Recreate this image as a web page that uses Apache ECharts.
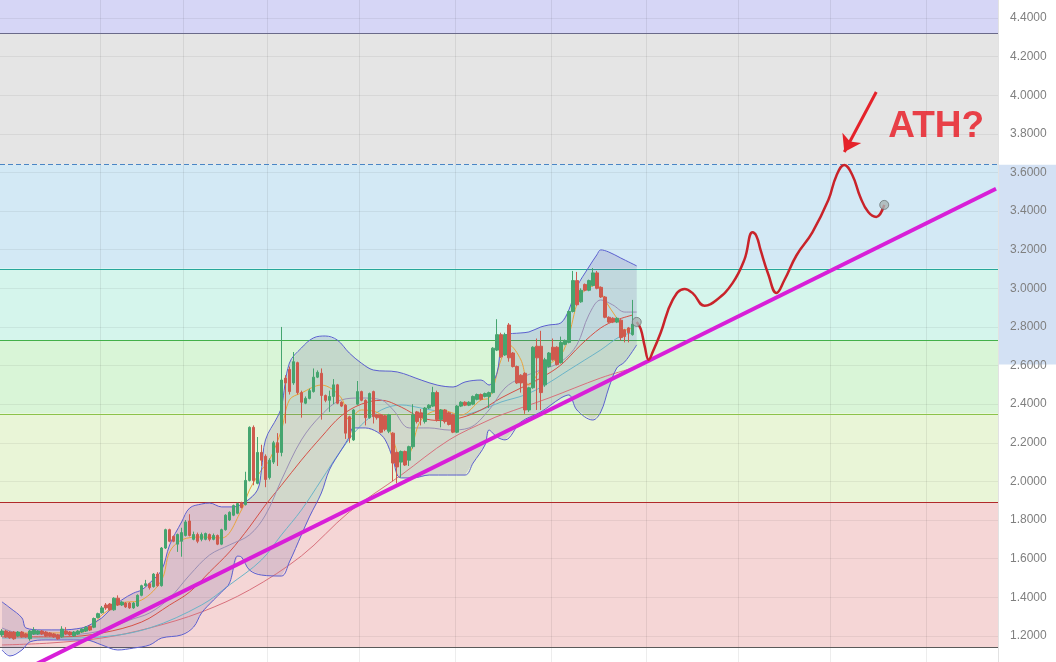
<!DOCTYPE html>
<html><head><meta charset="utf-8">
<script src="https://cdn.jsdelivr.net/npm/echarts/dist/echarts.min.js"></script>
<style>html,body{margin:0;padding:0;background:#fff}#c{width:1056px;height:662px}</style>
</head><body><div id="c"></div><script>
// ---------- DATA ----------
const yTicks = {min: 1.0, max: 4.6, step: 0.2};
const candles = [ // [open, close, low, high]
[1.205,1.225,1.195,1.235],[1.225,1.195,1.19,1.23],[1.22,1.19,1.185,1.225],[1.22,1.185,1.18,1.225],[1.20,1.22,1.195,1.225],
[1.22,1.195,1.19,1.225],[1.21,1.195,1.19,1.215],[1.185,1.225,1.175,1.23],[1.21,1.23,1.205,1.245],[1.21,1.225,1.205,1.23],
[1.225,1.21,1.205,1.23],[1.22,1.20,1.195,1.225],[1.215,1.20,1.195,1.22],[1.21,1.195,1.19,1.215],[1.205,1.185,1.18,1.21],
[1.195,1.235,1.19,1.25],[1.225,1.21,1.205,1.245],[1.22,1.205,1.20,1.225],[1.20,1.22,1.195,1.225],[1.21,1.225,1.205,1.23],
[1.22,1.235,1.215,1.24],[1.225,1.245,1.22,1.25],[1.25,1.23,1.225,1.255],[1.245,1.29,1.24,1.295],[1.295,1.315,1.29,1.32],
[1.32,1.345,1.315,1.355],[1.36,1.345,1.335,1.37],[1.365,1.335,1.33,1.37],[1.335,1.395,1.33,1.40],[1.395,1.36,1.355,1.41],
[1.36,1.375,1.355,1.38],[1.37,1.35,1.345,1.375],[1.37,1.345,1.34,1.375],[1.345,1.37,1.34,1.375],[1.355,1.41,1.35,1.415],
[1.41,1.46,1.405,1.465],[1.46,1.47,1.455,1.49],[1.47,1.45,1.44,1.475],[1.455,1.52,1.45,1.525],[1.52,1.46,1.455,1.53],
[1.46,1.655,1.455,1.66],[1.655,1.75,1.65,1.755],[1.75,1.69,1.685,1.755],[1.715,1.69,1.685,1.72],[1.675,1.725,1.635,1.73],
[1.69,1.735,1.61,1.76],[1.72,1.79,1.715,1.80],[1.795,1.72,1.715,1.83],[1.70,1.725,1.695,1.74],[1.725,1.69,1.68,1.735],
[1.70,1.725,1.69,1.735],[1.70,1.73,1.695,1.735],[1.725,1.70,1.69,1.73],[1.70,1.72,1.695,1.73],[1.72,1.675,1.67,1.725],
[1.675,1.75,1.67,1.755],[1.75,1.825,1.745,1.83],[1.80,1.84,1.795,1.845],[1.825,1.875,1.82,1.88],[1.835,1.885,1.83,1.89],
[1.89,1.865,1.86,1.895],[1.88,2.005,1.875,2.05],[2.005,2.28,2.0,2.285],[2.28,2.005,1.98,2.29],[1.99,2.15,1.985,2.23],
[2.15,2.11,2.08,2.19],[2.13,2.01,1.97,2.14],[2.02,2.11,2.01,2.12],[2.10,2.20,2.09,2.21],[2.20,2.15,2.08,2.25],
[2.15,2.525,2.13,2.80],[2.535,2.51,2.30,2.55],[2.58,2.465,2.45,2.595],[2.51,2.62,2.50,2.67],[2.615,2.46,2.45,2.62],
[2.46,2.41,2.33,2.47],[2.405,2.43,2.40,2.44],[2.43,2.47,2.425,2.48],[2.465,2.54,2.46,2.585],[2.54,2.565,2.535,2.575],
[2.56,2.445,2.32,2.585],[2.445,2.42,2.41,2.45],[2.42,2.44,2.36,2.47],[2.44,2.50,2.40,2.53],[2.50,2.405,2.40,2.505],
[2.41,2.39,2.385,2.415],[2.395,2.25,2.22,2.40],[2.335,2.225,2.20,2.34],[2.215,2.37,2.21,2.375],[2.40,2.465,2.395,2.52],
[2.465,2.42,2.415,2.47],[2.42,2.33,2.29,2.425],[2.33,2.455,2.325,2.46],[2.465,2.335,2.30,2.47],[2.345,2.33,2.32,2.35],
[2.345,2.255,2.25,2.35],[2.34,2.27,2.26,2.345],[2.26,2.345,2.25,2.35],[2.25,2.095,2.00,2.255],[2.15,2.075,1.99,2.155],
[2.10,2.155,2.02,2.16],[2.155,2.085,2.08,2.16],[2.11,2.18,2.08,2.185],[2.18,2.345,2.17,2.40],[2.36,2.31,2.30,2.365],
[2.355,2.33,2.29,2.375],[2.31,2.38,2.30,2.385],[2.38,2.395,2.375,2.40],[2.39,2.46,2.385,2.49],[2.46,2.32,2.31,2.47],
[2.32,2.37,2.28,2.375],[2.37,2.31,2.30,2.375],[2.355,2.295,2.29,2.36],[2.345,2.255,2.25,2.35],[2.255,2.39,2.25,2.395],
[2.39,2.41,2.385,2.415],[2.41,2.395,2.39,2.415],[2.395,2.41,2.39,2.415],[2.40,2.44,2.395,2.445],[2.425,2.45,2.42,2.455],
[2.45,2.425,2.42,2.455],[2.44,2.455,2.435,2.46],[2.44,2.46,2.38,2.465],[2.46,2.69,2.455,2.695],[2.68,2.76,2.675,2.84],
[2.76,2.645,2.64,2.77],[2.655,2.76,2.65,2.77],[2.81,2.64,2.62,2.82],[2.665,2.595,2.59,2.67],[2.595,2.51,2.505,2.60],
[2.55,2.51,2.46,2.555],[2.56,2.37,2.35,2.565],[2.37,2.485,2.36,2.49],[2.485,2.695,2.48,2.70],[2.70,2.64,2.37,2.74],
[2.70,2.46,2.37,2.78],[2.50,2.63,2.49,2.64],[2.595,2.665,2.59,2.67],[2.695,2.63,2.625,2.74],[2.695,2.605,2.60,2.70],
[2.615,2.72,2.61,2.75],[2.71,2.73,2.705,2.735],[2.72,2.88,2.715,2.885],[2.88,3.04,2.875,3.09],[3.04,2.915,2.91,3.085],
[2.93,2.99,2.925,3.00],[3.02,2.99,2.985,3.025],[2.99,3.04,2.985,3.045],[3.015,3.08,3.01,3.105],[3.08,3.00,2.995,3.09],
[3.005,2.955,2.95,3.01],[2.955,2.85,2.845,2.96],[2.85,2.825,2.82,2.855],[2.845,2.825,2.82,2.85],[2.825,2.845,2.82,2.85],
[2.835,2.745,2.73,2.84],[2.785,2.75,2.72,2.79],[2.795,2.77,2.72,2.80],[2.76,2.815,2.755,2.94]
];
// Bollinger band edges [candle index, price]
const bbUpper = [[0,1.376],[2,1.345],[5,1.293],[6,1.241],[10,1.231],[15,1.231],[20,1.241],[22,1.257],[25,1.293],[27,1.334],[30,1.386],[33,1.422],[35,1.438],[37,1.474],[40,1.541],[42,1.671],[45,1.790],[47,1.862],[50,1.883],[52,1.888],[55,1.868],[58,1.868],[61,1.894],[64,1.956],[65,2.059],[66,2.215],[69,2.334],[70,2.385],[72,2.613],[75,2.691],[78,2.743],[81,2.753],[84,2.732],[87,2.665],[90,2.613],[93,2.577],[99,2.567],[105,2.525],[109,2.499],[113,2.489],[116,2.515],[120,2.525],[122,2.499],[124,2.562],[125,2.707],[126,2.758],[130,2.769],[132,2.774],[135,2.800],[137,2.810],[140,2.821],[142,2.888],[144,3.007],[147,3.110],[149,3.173],[150,3.199],[152,3.188],[155,3.157],[159,3.116]];
const bbLower = [[0,1.127],[2,1.096],[5,1.127],[7,1.169],[11,1.179],[15,1.179],[18,1.179],[21,1.179],[25,1.153],[29,1.127],[33,1.137],[37,1.153],[40,1.189],[45,1.205],[48,1.246],[50,1.319],[53,1.386],[55,1.427],[57,1.474],[59,1.613],[60,1.608],[62,1.541],[65,1.515],[70,1.510],[72,1.583],[75,1.723],[77,1.816],[80,1.940],[82,2.059],[85,2.163],[87,2.230],[88,2.277],[91,2.277],[94,2.256],[96,2.215],[98,2.111],[99,2.033],[100,2.018],[103,2.018],[107,2.033],[116,2.033],[118,2.095],[121,2.189],[122,2.266],[124,2.230],[126,2.215],[130,2.308],[135,2.36],[140,2.432],[142,2.448],[144,2.370],[148,2.318],[150,2.360],[152,2.484],[154,2.587],[156,2.619],[159,2.707]];
// moving averages [candle index, price]
const maFast = [[0,1.215],[10,1.215],[20,1.220],[23,1.257],[25,1.308],[30,1.370],[35,1.386],[40,1.490],[42,1.635],[45,1.697],[50,1.712],[55,1.707],[60,1.852],[62,1.956],[65,2.059],[67,2.111],[70,2.266],[72,2.422],[75,2.458],[80,2.499],[85,2.432],[87,2.318],[90,2.370],[95,2.344],[98,2.215],[100,2.121],[102,2.137],[105,2.318],[110,2.370],[115,2.344],[120,2.422],[122,2.432],[125,2.629],[127,2.707],[130,2.629],[132,2.499],[135,2.577],[140,2.655],[142,2.758],[145,2.965],[149,3.017],[151,2.940],[154,2.846],[156,2.784],[158,2.795]];
const maBasis = [[0,1.241],[5,1.210],[15,1.205],[22,1.215],[27,1.241],[32,1.282],[37,1.319],[42,1.396],[47,1.515],[52,1.619],[57,1.671],[62,1.723],[66,1.826],[70,2.007],[75,2.215],[80,2.344],[85,2.422],[90,2.432],[95,2.422],[98,2.370],[102,2.277],[107,2.277],[112,2.266],[117,2.277],[122,2.370],[126,2.484],[130,2.536],[135,2.577],[140,2.619],[144,2.707],[147,2.862],[150,2.940],[153,2.914],[156,2.877],[159,2.877]];
const maRed = [[0,1.195],[15,1.195],[25,1.215],[35,1.272],[42,1.360],[47,1.427],[52,1.531],[57,1.635],[62,1.764],[66,1.878],[70,1.98],[75,2.11],[80,2.23],[85,2.34],[90,2.40],[95,2.42],[100,2.385],[105,2.33],[110,2.315],[115,2.33],[120,2.37],[125,2.432],[130,2.484],[135,2.536],[140,2.603],[145,2.707],[150,2.795],[154,2.836],[158,2.862]];
const maTeal = [[0,1.189],[15,1.189],[25,1.195],[37,1.241],[50,1.360],[57,1.464],[65,1.593],[70,1.723],[75,1.852],[80,2.007],[85,2.163],[90,2.292],[95,2.370],[100,2.396],[105,2.380],[110,2.360],[115,2.344],[120,2.370],[125,2.411],[131,2.448],[136,2.499],[142,2.577],[146,2.629],[150,2.681],[155,2.753],[158,2.769]];
const maSlow = [[0,1.153],[12,1.163],[25,1.189],[37,1.241],[50,1.324],[62,1.438],[75,1.614],[87,1.842],[100,2.033],[112,2.215],[122,2.318],[125,2.344],[137,2.432],[150,2.536],[158,2.587]];
// drawings
const trendLine = [[0,0.966],[249,3.516]];
const forecast = [[159,2.826],[160,2.79],[161,2.70],[162,2.63],[163,2.67],[165,2.77],[168,2.94],[171,2.997],[173,2.975],[176,2.91],[179,2.94],[183,3.027],[186,3.15],[188,3.29],[189,3.27],[190,3.20],[192,3.07],[194,2.976],[196,3.043],[199,3.17],[203,3.29],[207,3.457],[209,3.582],[211,3.639],[213,3.587],[215,3.473],[217,3.395],[219,3.37],[221,3.432]];
const fibLevels = [1.138, 1.890, 2.353, 2.728, 3.104, 3.6399, 4.317];
const arrowFrom = [219, 4.017], arrowTo = [211, 3.706];
const athText = 'ATH?', athAt = [234, 3.838];
const lastPrice = 2.815, markedPrice = 3.6399, axisRangeLow = 2.605;
const xGridIdx = [25, 46, 67, 90, 114, 138, 162, 185, 208, 232];
const nCats = 250;

// ---------- STYLE ----------
const zoneColors = ['#f5d6d6','#e9f5d7','#d9f5d7','#d5f5ec','#d3e9f5','#e5e5e5','#d6d6f6'];
const levelColors = ['#5a5a5a','#b02a2a','#8bc34a','#43b04a','#26a69a','#4a86c5','#6a6a8a'];
const upC = '#45a56f', downC = '#cf5a4e';

const cats = Array.from({length: nCats}, (_, i) => String(i));
const chart = echarts.init(document.getElementById('c'));
const lineS = (name, data, color, z) => ({name, type:'line', data, smooth:0.35, symbol:'none', silent:true, z,
  lineStyle:{color, width:1}});

chart.setOption({
  animation:false,
  backgroundColor:'#ffffff',
  grid:{left:0, right:58, top:-20.62, bottom:-12.5, containLabel:false, outerBoundsMode:'none'},
  xAxis:{type:'category', data:cats, boundaryGap:true, z:1,
    axisLine:{show:false}, axisTick:{show:false}, axisLabel:{show:false},
    splitLine:{show:true, interval:(i)=>xGridIdx.includes(i), lineStyle:{color:'rgba(0,0,0,0.07)'}}},
  yAxis:{type:'value', position:'right', min:yTicks.min, max:yTicks.max, interval:yTicks.step, z:1,
    axisLine:{show:true, lineStyle:{color:'#e2e2e2'}}, axisTick:{show:false},
    axisLabel:{margin:12, color:'#7f7f7f', fontSize:12, fontFamily:'Arial', formatter:(v)=>v.toFixed(4)},
    splitLine:{show:true, lineStyle:{color:'rgba(0,0,0,0.06)'}}},
  series:[
    { type:'custom', z:0, silent:true, clip:true,
      data: fibLevels.map((v,i)=>[i, v]),
      renderItem:(params, api)=>{
        const i = params.dataIndex, cs = params.coordSys;
        const lo = api.value(1);
        const hi = i+1 < fibLevels.length ? fibLevels[i+1] : yTicks.max;
        const yLo = api.coord([0, lo])[1], yHi = api.coord([0, hi])[1];
        return {type:'rect', shape:{x:cs.x, y:yHi, width:cs.width, height:yLo-yHi}, style:{fill:zoneColors[i]}};
      }},
    { type:'line', data:[], silent:true, z:1,
      markLine:{silent:true, symbol:'none', label:{show:false}, z:1,
        data: fibLevels.map((v,i)=>({yAxis:v,
          lineStyle:{color:levelColors[i], width:1, type: v===markedPrice ? [5,3] : 'solid', opacity:1}}))}},
    { type:'custom', z:2, silent:true, clip:true, data:[[0, bbUpper[0][1]]],
      renderItem:(params, api)=>{
        const pts = bbUpper.map(d=>api.coord(d)).concat(bbLower.slice().reverse().map(d=>api.coord(d)));
        return {type:'polygon', shape:{points:pts}, style:{fill:'rgba(95,80,150,0.17)'}};
      }},
    lineS('slow', maSlow, '#d8707c', 3),
    lineS('teal', maTeal, '#6ab4c8', 3),
    lineS('red', maRed, '#d65046', 3),
    lineS('basis', maBasis, '#9a8fb5', 3),
    lineS('fast', maFast, '#eaa43a', 3),
    lineS('bbU', bbUpper, '#5b5fcf', 3),
    lineS('bbL', bbLower, '#5b5fcf', 3),
    { type:'candlestick', data:candles, barWidth:3, z:4, silent:true,
      itemStyle:{color:upC, color0:downC, borderColor:upC, borderColor0:downC, borderWidth:1}},
    { type:'line', data:trendLine, symbol:'none', silent:true, z:5,
      lineStyle:{color:'#d81fd8', width:4}},
    { type:'line', data:forecast, smooth:0.45, symbol:'none', silent:true, z:6,
      lineStyle:{color:'#c9232a', width:2.5},
      markLine:{silent:true, symbol:['none','arrow'], symbolSize:16, z:7,
        lineStyle:{color:'#e5222a', width:3, type:'solid'}, label:{show:false},
        data:[[{coord:arrowFrom},{coord:arrowTo}]]}},
    { type:'scatter', data:[forecast[0], forecast[forecast.length-1]], symbolSize:9, silent:true, z:7,
      itemStyle:{color:'#a9b4b4', borderColor:'#6d7676', borderWidth:1}},
    { type:'scatter', data:[athAt], symbolSize:1, silent:true, z:8,
      itemStyle:{color:'transparent'},
      label:{show:true, position:'inside', formatter:athText, color:'#e8151f', fontSize:37,
        fontWeight:'bold', fontFamily:'Arial'}},
    { type:'line', data:[], silent:true, z:9,
      markLine:{silent:true, symbol:'none',
        data:[
          {yAxis:markedPrice, lineStyle:{opacity:0},
            label:{position:'end', distance:3, formatter:(p)=>Number(p.value).toFixed(4),
              backgroundColor:'#434651', color:'#fff', fontSize:12, fontFamily:'Arial', padding:[3,4,2,4]}},
          {yAxis:lastPrice, lineStyle:{opacity:0},
            label:{position:'end', distance:3, formatter:(p)=>Number(p.value).toFixed(4),
              backgroundColor:'#e2475a', color:'#fff', fontSize:12, fontFamily:'Arial', padding:[3,4,2,4]}}
        ]}}
  ]
});
// highlighted price range on the axis strip
const yA = chart.convertToPixel({yAxisIndex:0}, markedPrice);
const yB = chart.convertToPixel({yAxisIndex:0}, axisRangeLow);
chart.setOption({graphic:[{type:'rect', z:-1, silent:true,
  shape:{x:999, y:yA, width:57, height:yB-yA}, style:{fill:'#d3e1f4'}}]});
</script></body></html>
